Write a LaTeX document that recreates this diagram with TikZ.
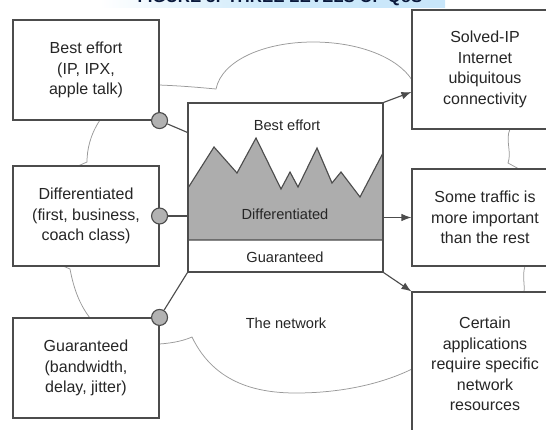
\documentclass[tikz,border=0pt]{standalone}
\usepackage{fontspec}
\setmainfont{Liberation Sans}
\usetikzlibrary{arrows.meta}

\begin{document}
\begin{tikzpicture}[x=0.8pt, y=-0.8pt]
        \tikzstyle{every node}=[inner sep=1pt, text=black!85]
        \tikzstyle{box}=[draw=black!70, line width=0.9pt, fill=white, minimum width=116.8pt, align=center, font=\fontsize{12.8}{16.5}\selectfont]
        \tikzstyle{plug}=[circle, draw=black!70, line width=0.9pt, fill=black!30, minimum size=12.8pt, inner sep=0pt]
        \tikzstyle{wire}=[draw=black!70, line width=0.9pt]
        \tikzstyle{arr}=[wire, -{Latex[length=8pt, width=6pt]}]
        \tikzstyle{cloud}=[draw=black!40, line width=0.6pt]
        \tikzstyle{lvl}=[font=\fontsize{11.7}{14}\selectfont]
        \useasboundingbox (0,0) rectangle (546,429);
        \clip (0,0) rectangle (546,429);
        \shade[left color=white, right color={rgb,255:red,200;green,230;blue,250}, middle color={rgb,255:red,205;green,233;blue,250}] (100,-12) rectangle (445,7);
        \node[anchor=base, font=\fontsize{13.5}{16}\selectfont\bfseries, text={rgb,255:red,10;green,25;blue,60}] (title) at (280,2) {FIGURE 3: THREE LEVELS OF QoS};
        \draw[cloud] (159,85) .. controls (185,86) and (205,88) .. (216,89) .. controls (222,60) and (265,42) .. (313,42) .. controls (360,42) and (398,58) .. (412,80);
        \draw[cloud] (100,120) .. controls (90,135) and (87,150) .. (87,162) -- (78,166);
        \draw[cloud] (63,266) -- (70,269) .. controls (74,290) and (80,305) .. (90,318);
        \draw[cloud] (159,344) .. controls (175,343) and (185,340) .. (192,337) .. controls (215,385) and (260,393) .. (296,393) .. controls (350,393) and (390,380) .. (412,369);
        \draw[cloud] (510,129) .. controls (505,140) and (512,152) .. (508,163) -- (519,169);
        \draw[cloud] (525,266) .. controls (522,276) and (525,284) .. (524,292);
        \node[box, minimum height=80pt] (best) at (86,70) {Best effort\\(IP, IPX,\\apple talk)};
        \node[box, minimum height=80pt] (diff) at (86,216) {Differentiated\\(first, business,\\coach class)};
        \node[box, minimum height=80pt] (guar) at (86,368) {Guaranteed\\(bandwidth,\\delay, jitter)};
        \node[box, minimum height=95.2pt] (solved) at (485,69.5) {Solved-IP\\Internet\\ubiquitous\\connectivity};
        \node[box, minimum height=77.6pt] (traffic) at (485,217.5) {Some traffic is\\more important\\than the rest};
        \node[box, minimum height=115.2pt] (certain) at (485,364) {Certain\\applications\\require specific\\network\\resources};
        \filldraw[wire, fill=black!32] (188,240) -- (188,188) -- (214,147) -- (237,173) -- (256,138) -- (281,189) -- (290,172) -- (298,187) -- (317,148) -- (332,183) -- (341,172) -- (360,197) -- (383,153) -- (383,240) -- cycle;
        \node[draw=black!70, line width=0.9pt, minimum width=156pt, minimum height=135.2pt, inner sep=0pt] (net) at (285.5,187.5) {};
        \node[lvl] (be) at (287,125) {Best effort};
        \node[lvl] (dl) at (285,214) {Differentiated};
        \node[lvl] (gl) at (285,257) {Guaranteed};
        \node[lvl] (nw) at (286,323) {The network};
        \node[plug] (p1) at (best.south east) {};
        \node[plug] (p2) at (diff.east) {};
        \node[plug] (p3) at (guar.north east) {};
        \draw[wire] (p1) -- ([yshift=-24pt]net.north west);
        \draw[wire] (p2) -- (p2 -| net.west);
        \draw[wire] (p3) -- (net.south west);
        \draw[arr] (net.north east) -- ([yshift=-18pt]solved.west);
        \draw[arr] (net.east |- traffic.west) -- (traffic.west);
        \draw[arr] (net.south east) -- (certain.north west);
    \end{tikzpicture}
\end{document}
